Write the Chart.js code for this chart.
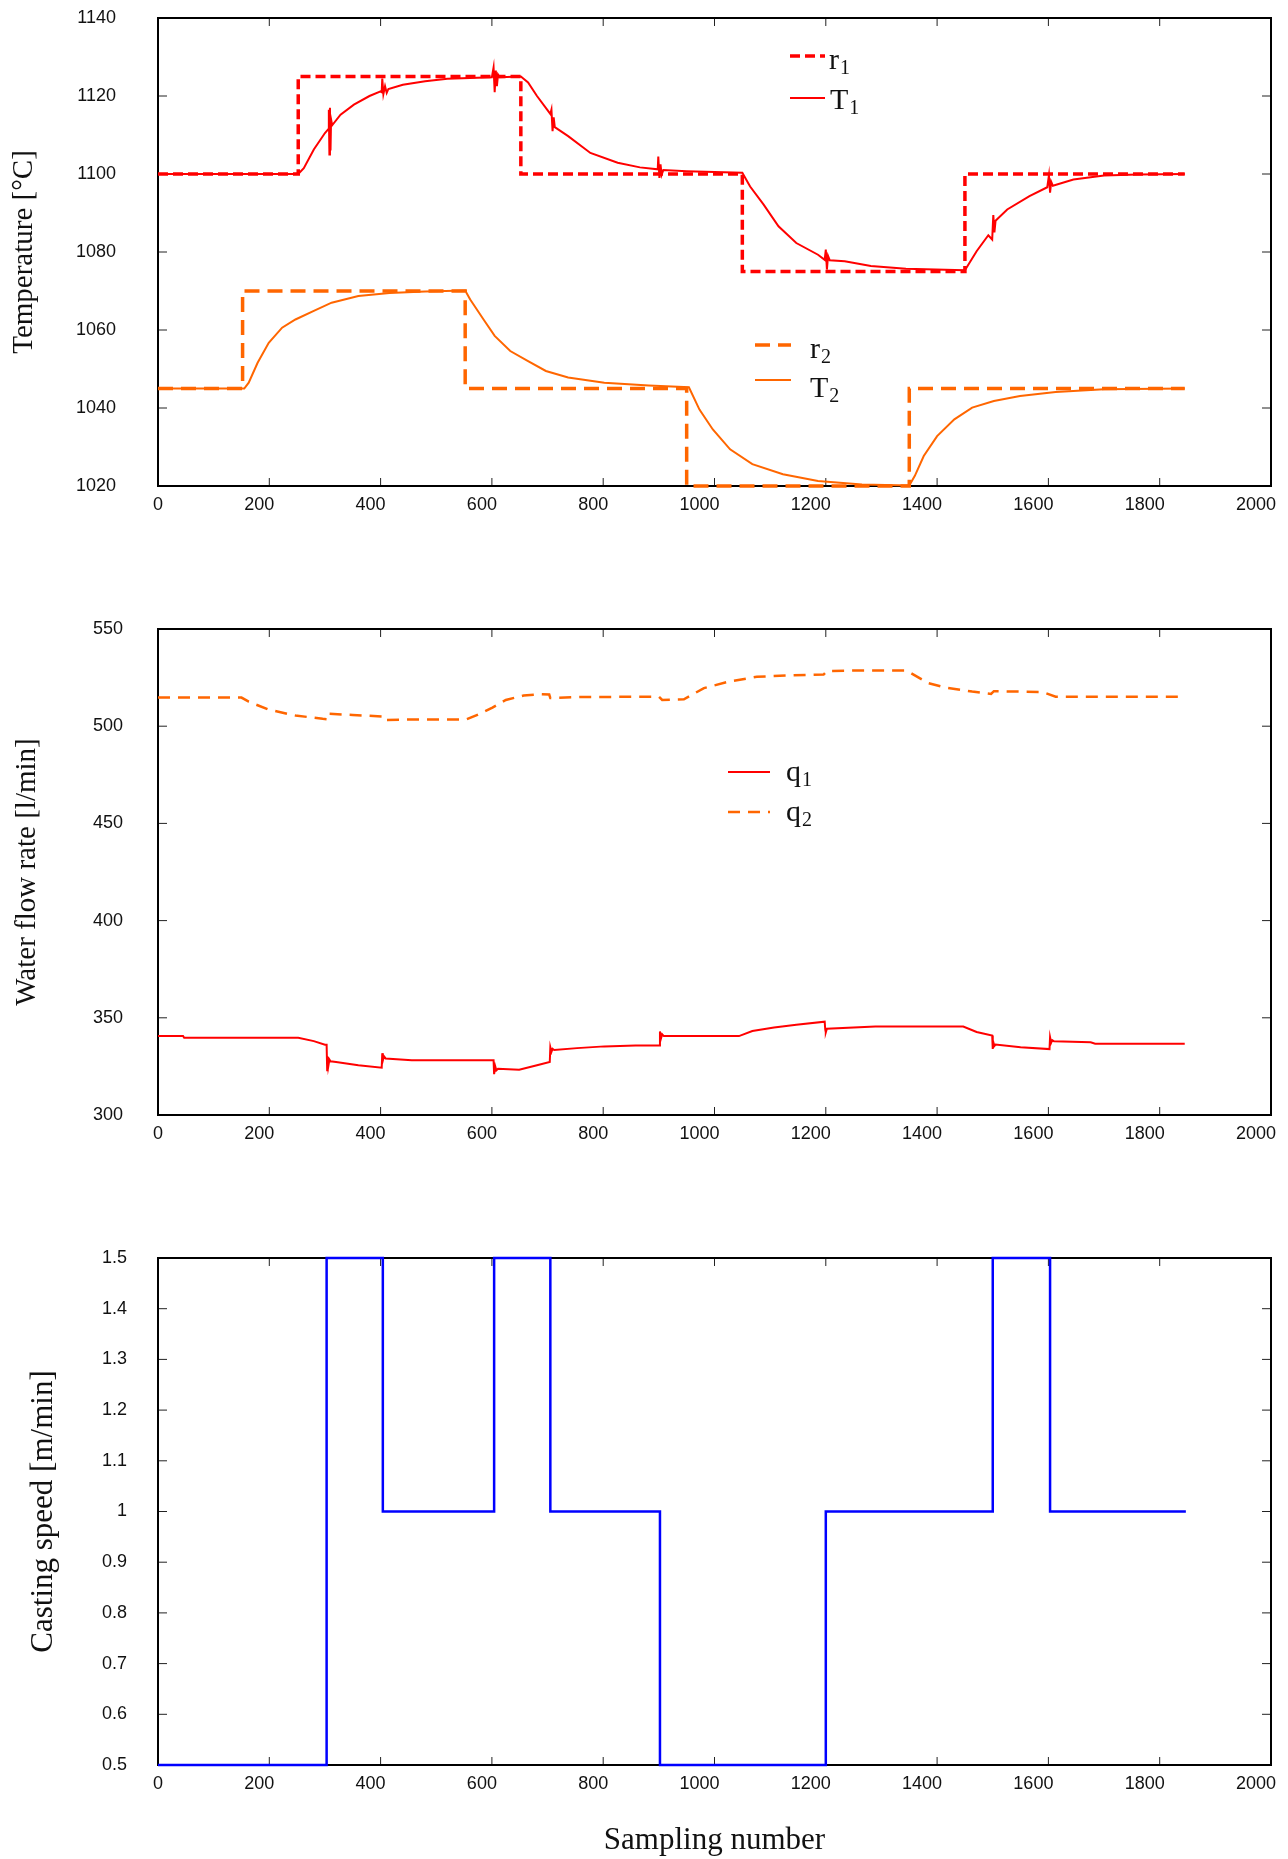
<!DOCTYPE html>
<html lang="en">
<head>
  <meta charset="UTF-8" />
  <title>Temperature, water flow rate and casting speed</title>
  <script src="https://cdn.jsdelivr.net/npm/chart.js"></script>
  <style>
    body { margin: 0; background: #fff; overflow: hidden; }
    canvas { position: absolute; left: 0; }
  </style>
</head>
<body>

<canvas id="tempChart" width="1288" height="540" style="top:0"></canvas>
<canvas id="flowChart" width="1288" height="600" style="top:570px"></canvas>
<canvas id="speedChart" width="1288" height="669" style="top:1190px"></canvas>

<script>
  // Setpoints (step changes: [sample, new value])
  const r1 = [[0, 1100], [252, 1125], [652, 1100], [1050, 1075], [1450, 1100], [1845, 1100]];
  const r2 = [[0, 1045], [152, 1070], [552, 1045], [950, 1020], [1350, 1045], [1845, 1045]];

  // Measured temperatures
  const T1 = [
    [0, 1100], [252, 1100], [262, 1101.5], [280, 1106.3], [300, 1110.5], [306, 1111.5],
    [307, 1116.5], [308, 1105], [309, 1117], [310, 1106], [311, 1114], [313, 1112.5],
    [328, 1115.2], [352, 1117.8], [380, 1120], [400, 1121.2],
    [402, 1121], [403, 1124.5], [405, 1120.5], [408, 1122.5], [411, 1120.8], [414, 1121.8],
    [440, 1122.9], [480, 1123.8], [520, 1124.4], [600, 1124.8],
    [603, 1127.3], [605, 1121], [607, 1126.5], [609, 1122.5], [611, 1125.5], [614, 1124.8],
    [652, 1125], [665, 1123.5], [681, 1120], [705, 1115.4],
    [707, 1116.5], [709, 1111], [711, 1114.5], [713, 1112],
    [737, 1109.7], [777, 1105.4], [826, 1102.9], [866, 1101.7], [898, 1101.2],
    [899, 1104.5], [901, 1099], [903, 1102.5], [905, 1099.8], [908, 1101],
    [950, 1100.7], [1000, 1100.5], [1050, 1100.3], [1064, 1096.8], [1088, 1092.2],
    [1115, 1086.6], [1147, 1082.3], [1186, 1079.3],
    [1198, 1078], [1200, 1080.6], [1202, 1075.5], [1204, 1079], [1207, 1077.9],
    [1234, 1077.6], [1281, 1076.4], [1344, 1075.7], [1450, 1075.3], [1471, 1080.2], [1492, 1084.3],
    [1499, 1083.2], [1501, 1089.5], [1503, 1085], [1505, 1088],
    [1526, 1090.9], [1566, 1094.3], [1598, 1096.6],
    [1601, 1099.7], [1603, 1095.2], [1605, 1098], [1608, 1097],
    [1645, 1098.6], [1700, 1099.6], [1760, 1099.9], [1845, 1100]
  ];
  const T2 = [
    [0, 1045], [155, 1045], [163, 1046.5], [179, 1051.6], [199, 1056.7], [223, 1060.6],
    [247, 1062.7], [280, 1064.9], [312, 1067], [360, 1068.7], [416, 1069.5], [480, 1069.9],
    [552, 1070.1], [561, 1067.8], [585, 1062.7], [605, 1058.5], [633, 1054.6], [665, 1052],
    [697, 1049.5], [737, 1047.8], [802, 1046.5], [882, 1045.8], [954, 1045.3], [973, 1039.6],
    [997, 1034.5], [1028, 1029.4], [1068, 1025.6], [1123, 1023], [1186, 1021.3], [1265, 1020.4],
    [1350, 1020.1], [1360, 1022.6], [1376, 1027.7], [1400, 1032.8], [1431, 1037.1],
    [1463, 1040.1], [1502, 1041.8], [1549, 1043.1], [1613, 1044.1], [1700, 1044.8], [1845, 1045]
  ];

  // Water flow rates
  const q1 = [
    [0, 340.6], [45, 340.6], [47, 339.7], [252, 339.7], [280, 338], [300, 336.2], [303, 336.2],
    [304, 323], [305, 330], [306, 325], [308, 328.5], [310, 327.6], [320, 327.3], [360, 325.6],
    [402, 324.3], [403, 331.8], [404, 328], [406, 330.2], [409, 329.1], [456, 328.2], [603, 328.2],
    [604, 321], [606, 325], [608, 323], [611, 323.8], [649, 323.3], [681, 325.6], [704, 327.3],
    [705, 334.8], [707, 332.5], [709, 334], [712, 333.4], [753, 334.4], [802, 335.3], [858, 335.8],
    [901, 335.8], [902, 343], [904, 339.5], [906, 341.5], [909, 340.6], [1044, 340.6],
    [1068, 343.2], [1107, 345], [1147, 346.4], [1198, 348], [1199, 344], [1200, 342.5],
    [1202, 344.4], [1289, 345.5], [1447, 345.5], [1471, 342.7], [1499, 340.9], [1500, 334],
    [1501, 337.5], [1503, 335.5], [1505, 336.2], [1550, 334.9], [1602, 333.9], [1603, 340],
    [1605, 337.2], [1607, 338.5], [1610, 337.9], [1676, 337.4], [1684, 336.7], [1845, 336.7]
  ];
  const q2 = [
    [0, 514.7], [150, 514.7], [163, 512.6], [199, 508.5], [247, 505.5], [296, 503.8], [304, 503.6],
    [305, 506.4], [350, 505.8], [402, 505], [404, 503.2], [450, 503.4], [553, 503.4], [575, 506],
    [601, 509.6], [625, 513.5], [657, 515.8], [689, 516.5], [703, 516.3], [705, 514.5], [761, 515],
    [900, 515.2], [906, 513.5], [945, 513.8], [981, 519.6], [1028, 523.1], [1076, 525.4],
    [1131, 526.1], [1196, 526.6], [1202, 528.4], [1265, 528.7], [1344, 528.7], [1352, 527.5],
    [1384, 522.2], [1415, 519.9], [1463, 517.8], [1497, 516.6], [1502, 518], [1589, 517.6],
    [1613, 515.2], [1845, 515.2]
  ];

  // Casting speed (step changes)
  const speed = [[0, 0.5], [303, 1.5], [404, 1.0], [604, 1.5], [705, 1.0], [902, 0.5],
                 [1200, 1.0], [1500, 1.5], [1603, 1.0], [1847, 1.0]];

  const RED = '#ff0000';
  const ORANGE = '#ff6600';
  const BLUE = '#0000ff';
  const SANS = '"Liberation Sans", Arial, sans-serif';
  const SERIF = '"Liberation Serif", "Times New Roman", serif';

  const pts = arr => arr.map(([x, y]) => ({ x, y }));

  // frame + inward ticks on all four sides (gnuplot look)
  const framePlugin = {
    id: 'frame',
    beforeDatasetsDraw(chart) {
      const { ctx, chartArea: a, scales } = chart;
      ctx.save();
      ctx.strokeStyle = '#222';
      ctx.lineWidth = 1;
      ctx.beginPath();
      scales.x.ticks.forEach(t => {
        const px = scales.x.getPixelForValue(t.value);
        if (px <= a.left + 1 || px >= a.right - 1) return;
        ctx.moveTo(px, a.bottom); ctx.lineTo(px, a.bottom - 8);
        ctx.moveTo(px, a.top); ctx.lineTo(px, a.top + 8);
      });
      scales.y.ticks.forEach(t => {
        const py = scales.y.getPixelForValue(t.value);
        if (py <= a.top + 1 || py >= a.bottom - 1) return;
        ctx.moveTo(a.left, py); ctx.lineTo(a.left + 9, py);
        ctx.moveTo(a.right, py); ctx.lineTo(a.right - 9, py);
      });
      ctx.stroke();
      ctx.strokeStyle = '#000';
      ctx.lineWidth = 2;
      ctx.strokeRect(a.left, a.top, a.right - a.left, a.bottom - a.top);
      ctx.restore();
    }
  };
  Chart.register(framePlugin);

  // legend with subscripts, styles taken from the datasets
  function subLegend(items) {
    return {
      id: 'subLegend',
      afterDraw(chart) {
        const ctx = chart.ctx;
        items.forEach(it => {
          const ds = chart.data.datasets[it.ds];
          ctx.save();
          ctx.strokeStyle = ds.borderColor;
          ctx.lineWidth = ds.borderWidth;
          ctx.setLineDash(ds.borderDash || []);
          ctx.beginPath();
          ctx.moveTo(it.x0, it.y);
          ctx.lineTo(it.x1, it.y);
          ctx.stroke();
          ctx.setLineDash([]);
          ctx.fillStyle = '#111';
          ctx.textBaseline = 'alphabetic';
          ctx.font = '30px ' + SERIF;
          const main = ds.label.slice(0, 1), sub = ds.label.slice(1);
          ctx.fillText(main, it.tx, it.base);
          const w = ctx.measureText(main).width;
          ctx.font = '20px ' + SERIF;
          ctx.fillText(sub, it.tx + w + 1, it.base + 5);
          ctx.restore();
        });
      }
    };
  }

  function options(c) {
    return {
      responsive: false,
      animation: false,
      layout: { padding: { left: 0, right: 17, top: c.padTop, bottom: 0 } },
      plugins: { legend: { display: false }, tooltip: { enabled: false } },
      elements: { point: { radius: 0 }, line: { tension: 0 } },
      scales: {
        x: {
          type: 'linear', min: 0, max: 2000,
          grid: { display: false, drawTicks: false },
          border: { display: false },
          ticks: {
            stepSize: 200, align: 'end', labelOffset: 5, padding: 8, autoSkip: false,
            maxRotation: 0, color: '#111', font: { family: SANS, size: 18 },
            callback: v => String(v)
          },
          title: c.xTitle
            ? { display: true, text: c.xTitle, color: '#111', font: { family: SERIF, size: 31 }, padding: { top: 0, bottom: 0 } }
            : { display: false },
          afterFit: s => { s.height = c.xHeight; }
        },
        y: {
          type: 'linear', min: c.yMin, max: c.yMax,
          grid: { display: false, drawTicks: false },
          border: { display: false },
          ticks: {
            stepSize: c.yStep, padding: c.yPad, color: '#111',
            font: { family: SANS, size: 18 },
            callback: v => String(Math.round(v * 10) / 10)
          },
          title: {
            display: true, text: c.yTitle, color: '#111',
            font: { family: SERIF, size: c.yTitleSize },
            padding: { top: c.yTitlePad, bottom: 0 }
          },
          afterFit: s => {
            s.width = 158;
            s.paddingTop = 0;
            s.paddingBottom = 0;
          }
        }
      }
    };
  }

  // Temperatures
  new Chart(document.getElementById('tempChart'), {
    type: 'line',
    data: {
      datasets: [
        { label: 'r1', data: pts(r1), stepped: true, borderColor: RED, borderWidth: 3.5, borderDash: [10, 5], clip: false },
        { label: 'T1', data: pts(T1), borderColor: RED, borderWidth: 2, clip: false },
        { label: 'r2', data: pts(r2), stepped: true, borderColor: ORANGE, borderWidth: 3.5, borderDash: [15, 8], clip: false },
        { label: 'T2', data: pts(T2), borderColor: ORANGE, borderWidth: 2, clip: false }
      ]
    },
    options: options({
      padTop: 18, xHeight: 54, yMin: 1020, yMax: 1140, yStep: 20, yPad: 42,
      yTitle: 'Temperature [°C]', yTitleSize: 29, yTitlePad: 6.6
    }),
    plugins: [subLegend([
      { ds: 0, x0: 790, x1: 825, y: 56, tx: 829, base: 69 },
      { ds: 1, x0: 790, x1: 825, y: 98, tx: 830, base: 109 },
      { ds: 2, x0: 755, x1: 791, y: 345, tx: 810, base: 358 },
      { ds: 3, x0: 755, x1: 791, y: 380, tx: 810, base: 397 }
    ])]
  });

  // Water flow rates
  new Chart(document.getElementById('flowChart'), {
    type: 'line',
    data: {
      datasets: [
        { label: 'q1', data: pts(q1), borderColor: RED, borderWidth: 2, clip: false },
        { label: 'q2', data: pts(q2), borderColor: ORANGE, borderWidth: 2.5, borderDash: [12, 8], clip: false }
      ]
    },
    options: options({
      padTop: 59, xHeight: 55, yMin: 300, yMax: 550, yStep: 50, yPad: 35,
      yTitle: 'Water flow rate [l/min]', yTitleSize: 29, yTitlePad: 9.6
    }),
    plugins: [subLegend([
      { ds: 0, x0: 728, x1: 770, y: 202, tx: 786, base: 211 },
      { ds: 1, x0: 728, x1: 770, y: 242, tx: 786, base: 251 }
    ])]
  });

  // Casting speed
  new Chart(document.getElementById('speedChart'), {
    type: 'line',
    data: {
      datasets: [
        { label: 'v', data: pts(speed), stepped: true, borderColor: BLUE, borderWidth: 2.5, clip: false }
      ]
    },
    options: options({
      padTop: 68, xHeight: 94, yMin: 0.5, yMax: 1.5, yStep: 0.1, yPad: 31,
      yTitle: 'Casting speed [m/min]', yTitleSize: 31, yTitlePad: 25.4,
      xTitle: 'Sampling number'
    })
  });
</script>

</body>
</html>
